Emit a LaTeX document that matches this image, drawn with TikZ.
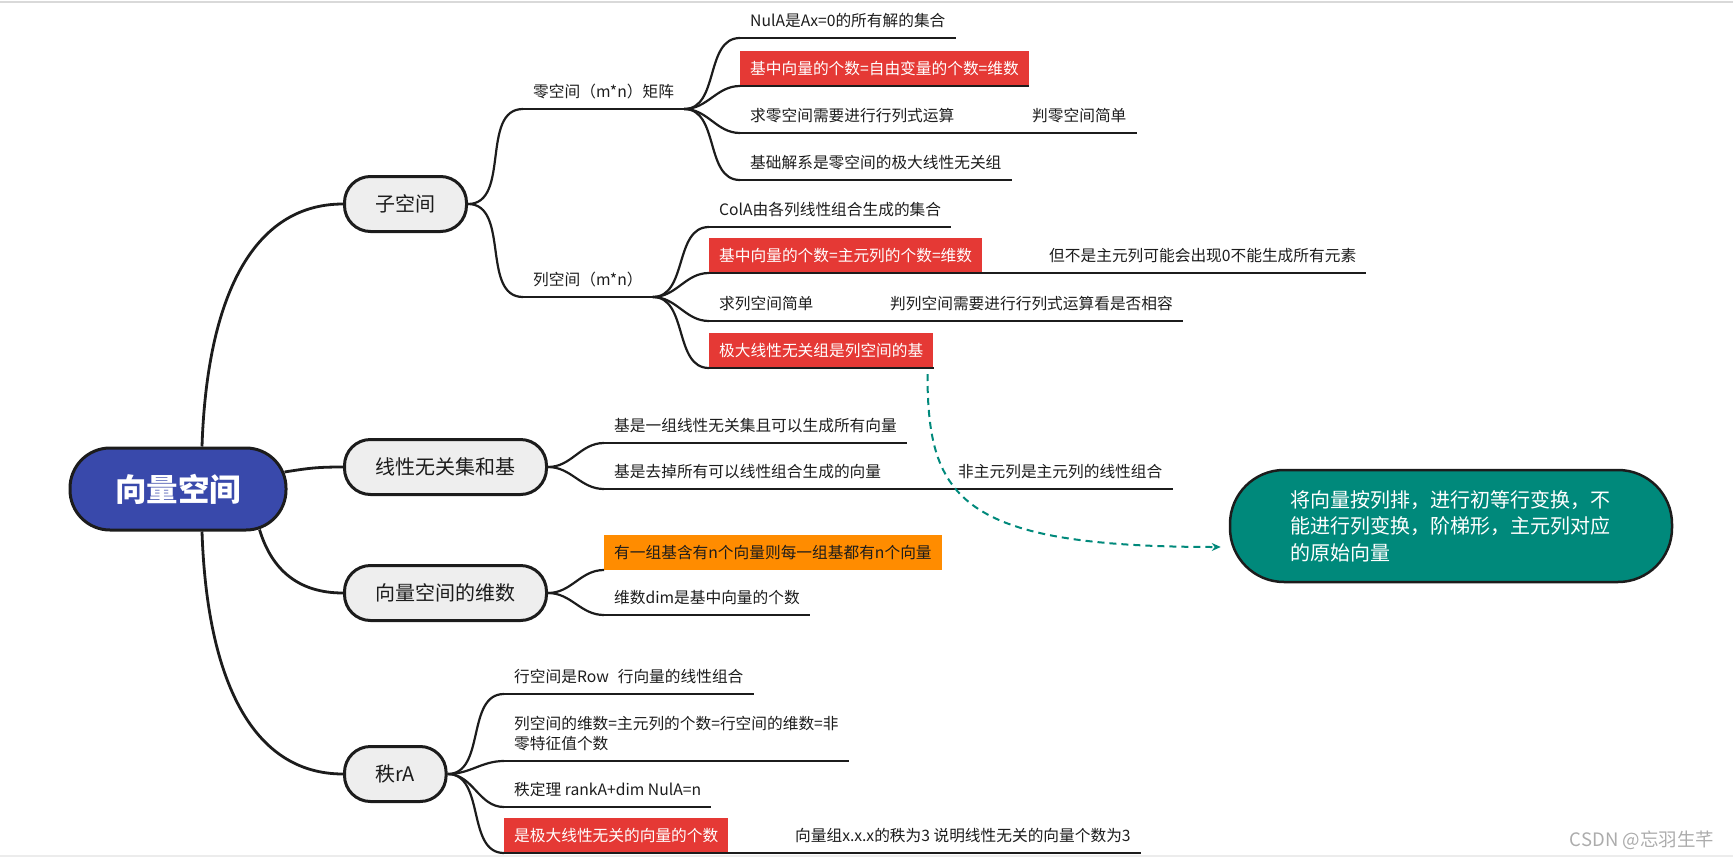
\documentclass[tikz,border=0pt]{standalone}
\usepackage{fontspec}
\setmainfont{Noto Sans CJK SC}
\usetikzlibrary{arrows.meta,positioning,backgrounds}

\definecolor{rootblue}{RGB}{57,73,171}
\definecolor{topicgray}{RGB}{238,238,238}
\definecolor{markred}{RGB}{229,57,53}
\definecolor{markorange}{RGB}{255,140,0}
\definecolor{noteteal}{RGB}{0,137,123}
\definecolor{inkdark}{RGB}{28,28,28}

\begin{document}
\begin{tikzpicture}[
  x=1pt, y=-1pt,
  every node/.style={font=\fontsize{15.7}{20}\selectfont, text=inkdark},
  central/.style={rectangle, draw=inkdark, line width=3pt, fill=rootblue, text=white,
    rounded corners=40pt, minimum width=216pt, minimum height=82pt,
    font=\fontsize{31.5}{36}\selectfont\bfseries},
  mainbox/.style={rectangle, draw=inkdark, line width=3pt, fill=topicgray, anchor=west,
    rounded corners=26pt, minimum height=55pt, inner xsep=31pt,
    font=\fontsize{20}{24}\selectfont},
  subtopic/.style={anchor=south west, inner xsep=10pt, inner ysep=9.5pt,
    text height=13.8pt, text depth=1.9pt},
  redmark/.style={subtopic, fill=markred, text=white},
  orangemark/.style={subtopic, fill=markorange},
  tealnote/.style={rectangle, draw=inkdark, line width=2.5pt, fill=noteteal, text=white,
    rounded corners=54pt, minimum width=442pt, minimum height=112pt,
    text width=322pt, align=left, font=\fontsize{20}{26.5}\selectfont},
  branch/.style={draw=inkdark, line width=2.8pt},
  twig/.style={draw=inkdark, line width=2.2pt},
  link/.style={draw=noteteal, line width=2pt, dash pattern=on 7pt off 5pt,
    -{Stealth[length=9pt,width=8pt]}}
]
\useasboundingbox (0,0) rectangle (1733,857);
\draw[gray!30, line width=1.5pt] (0,2) -- (1733,2);
\draw[gray!15, line width=2pt] (0,856) -- (1733,856);

% Level 1
\node[central] (vecsp) at (178,489) {向量空间};

% Level 2
\node[mainbox] (subsp) at (343,204) {子空间};
\node[mainbox] (basis) at (343,467) {线性无关集和基};
\node[mainbox] (dimen) at (343,593) {向量空间的维数};
\node[mainbox] (rank) at (343,774) {秩rA};

% Level 3 - subspaces
\node[subtopic] (nulsp) at (523,109) {零空间（m*n）矩阵};
\node[subtopic] (colsp) at (523,297) {列空间（m*n）};

% Level 4 - null space
\node[subtopic] (nul1) at (740,38) {NulA是Ax=0的所有解的集合};
\node[redmark] (nul2) at (740,86) {基中向量的个数=自由变量的个数=维数};
\node[subtopic] (nul3) at (740,133) {求零空间需要进行行列式运算};
\node[subtopic] (nul3b) at (1022,133) {判零空间简单};
\node[subtopic] (nul4) at (740,180) {基础解系是零空间的极大线性无关组};

% Level 4 - column space
\node[subtopic] (col1) at (709,227) {ColA由各列线性组合生成的集合};
\node[redmark] (col2) at (709,273) {基中向量的个数=主元列的个数=维数};
\node[subtopic] (col2b) at (1039,273) {但不是主元列可能会出现0不能生成所有元素};
\node[subtopic] (col3) at (709,321) {求列空间简单};
\node[subtopic] (col3b) at (880,321) {判列空间需要进行行列式运算看是否相容};
\node[redmark] (col4) at (709,368) {极大线性无关组是列空间的基};

% Level 3 - basis
\node[subtopic] (bas1) at (604,443) {基是一组线性无关集且可以生成所有向量};
\node[subtopic] (bas2) at (604,489) {基是去掉所有可以线性组合生成的向量};
\node[subtopic] (bas2b) at (948,489) {非主元列是主元列的线性组合};

% Level 3 - dimension
\node[orangemark] (dim1) at (604,570) {有一组基含有n个向量则每一组基都有n个向量};
\node[subtopic] (dim2) at (604,615) {维数dim是基中向量的个数};

% Level 3 - rank
\node[subtopic] (rk1) at (504,694) {行空间是Row\hspace{9pt}行向量的线性组合};
\node[subtopic, text height=, text depth=, align=left] (rk2) at (504,761) {列空间的维数=主元列的个数=行空间的维数=非\\零特征值个数};
\node[subtopic] (rk3) at (504,807) {秩定理 rankA+dim NulA=n};
\node[redmark] (rk4) at (504,853) {是极大线性无关的向量的个数};
\node[subtopic] (rk4b) at (785,853) {向量组x.x.x的秩为3 说明线性无关的向量个数为3};

% Floating note
\node[tealnote] (pivot) at (1451,526) {将向量按列排，进行初等行变换，不\\能进行列变换，阶梯形，主元列对应\\的原始向量};

\node[text=gray!65, font=\fontsize{18.5}{22}\selectfont] (csdn) at (1642,840) {CSDN @忘羽生芊};

% Connections
\begin{scope}[on background layer]
\draw[branch] ([xshift=24pt]vecsp.north) .. controls +(5,-150) and +(-90,0) .. (subsp.west);
\draw[branch] ([shift={(-3,-17)}]vecsp.east) .. controls +(25,-4) and +(-25,0) .. (basis.west);
\draw[branch] ([shift={(-28,-2)}]vecsp.south east) .. controls +(12,40) and +(-45,0) .. (dimen.west);
\draw[branch] ([xshift=24pt]vecsp.south) .. controls +(5,150) and +(-90,0) .. (rank.west);

\foreach \kid in {nulsp,colsp}
  \draw[twig] (subsp.east) to[out=0,in=180] (\kid.south west);
\foreach \kid in {nul1,nul2,nul3,nul4}
  \draw[twig] (nulsp.south east) to[out=0,in=180] (\kid.south west);
\foreach \kid in {col1,col2,col3,col4}
  \draw[twig] (colsp.south east) to[out=0,in=180] (\kid.south west);
\foreach \kid in {bas1,bas2}
  \draw[twig] (basis.east) to[out=0,in=180] (\kid.south west);
\foreach \kid in {dim1,dim2}
  \draw[twig] (dimen.east) to[out=0,in=180] (\kid.south west);
\foreach \kid in {rk1,rk2,rk3,rk4}
  \draw[twig] (rank.east) to[out=0,in=180] (\kid.south west);
\end{scope}

% Underlines
\foreach \topic in {nulsp,colsp,nul1,nul2,nul4,col1,col4,bas1,dim2,rk1,rk2,rk3}
  \draw[twig] (\topic.south west) -- (\topic.south east);
\draw[twig] (nul3.south west) -- (nul3b.south east);
\draw[twig] (col2.south west) -- (col2b.south east);
\draw[twig] (col3.south west) -- (col3b.south east);
\draw[twig] (bas2.south west) -- (bas2b.south east);
\draw[twig] (rk4.south west) -- (rk4b.south east);

\draw[link] ([shift={(-6,6)}]col4.south east) .. controls +(0,125) and +(-260,0) .. ([shift={(-8,21)}]pivot.west);

\end{tikzpicture}
\end{document}
